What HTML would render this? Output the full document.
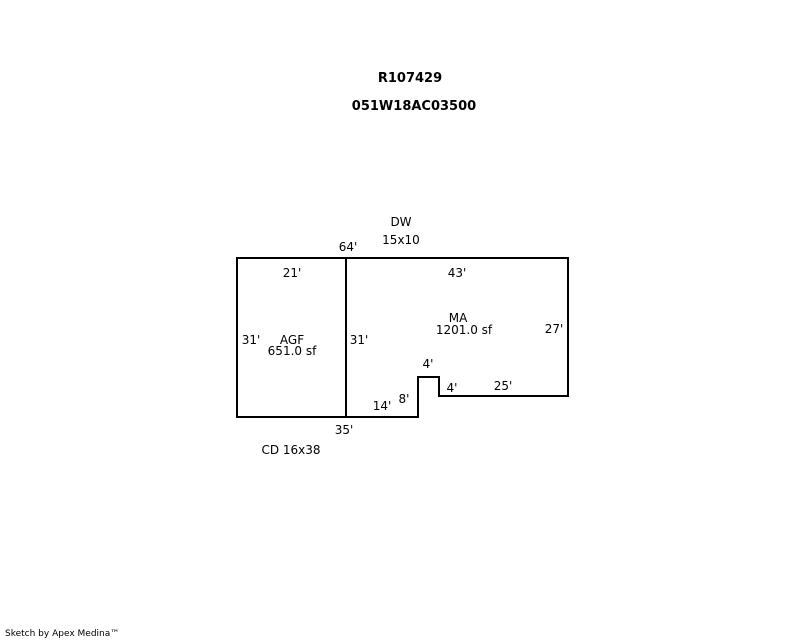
<!DOCTYPE html>
<html><head><style>
html,body{margin:0;padding:0;background:#fff;}
svg{display:block;}
text{font-family:"DejaVu Sans","Liberation Sans",sans-serif;font-size:12px;fill:#000;text-anchor:middle;}
</style></head><body>
<svg width="800" height="640" viewBox="0 0 800 640" xmlns="http://www.w3.org/2000/svg">
<g fill="none" stroke="#000" stroke-width="2">
<rect x="237" y="258" width="331" height="159" stroke="none"/>
<path d="M237 258 H568 V396 H439 V377 H418 V417 H237 Z"/>
<path d="M346 258 V417"/>
</g>
<text x="410" y="82" style="font-weight:bold;font-size:13px">R107429</text>
<text x="414" y="110" style="font-weight:bold;font-size:13px">051W18AC03500</text>
<text x="401" y="226">DW</text>
<text x="401" y="244">15x10</text>
<text x="348" y="251">64'</text>
<text x="292" y="277">21'</text>
<text x="457" y="277">43'</text>
<text x="458" y="322">MA</text>
<text x="464" y="334">1201.0 sf</text>
<text x="554" y="333">27'</text>
<text x="251" y="344">31'</text>
<text x="292" y="344">AGF</text>
<text x="292" y="355">651.0 sf</text>
<text x="359" y="344">31'</text>
<text x="428" y="368">4'</text>
<text x="452" y="392">4'</text>
<text x="503" y="390">25'</text>
<text x="404" y="403">8'</text>
<text x="382" y="410">14'</text>
<text x="344" y="434">35'</text>
<text x="291" y="454">CD 16x38</text>
<text x="5" y="636" style="font-size:9px;text-anchor:start">Sketch by Apex Medina™</text>
</svg>
</body></html>
